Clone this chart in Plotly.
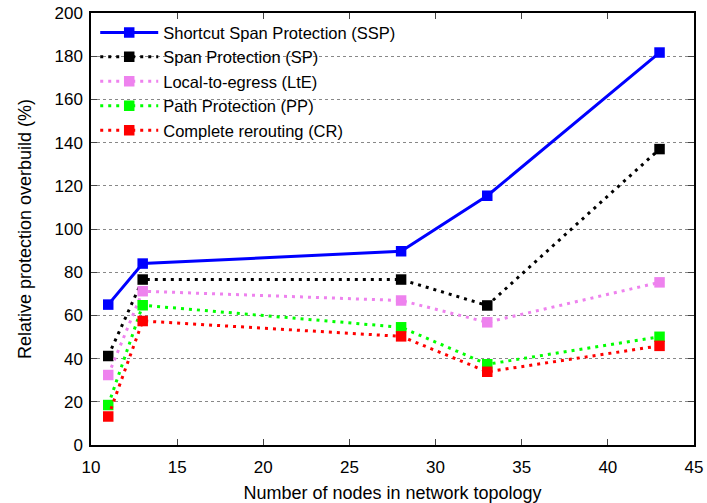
import plotly.graph_objects as go

nodes = [11, 13, 28, 33, 43]

series_names = [
    'Shortcut Span Protection (SSP)',
    'Span Protection (SP)',
    'Local-to-egress (LtE)',
    'Path Protection (PP)',
    'Complete rerouting (CR)',
]
ssp = [65, 84, 89.7, 115.4, 181.7]
sp = [41.2, 76.6, 76.6, 64.6, 137]
lte = [32.4, 71.2, 66.9, 56.8, 75.3]
pp = [18.5, 64.7, 54.5, 37.4, 50.1]
cr = [13.2, 57.4, 50.3, 33.9, 45.9]

y_ticks = list(range(0, 201, 20))
x_ticks = list(range(10, 46, 5))

colors = ['#0000ff', '#000000', '#ee82ee', '#00ff00', '#ff0000']
dashes = ['solid', '3px,5px', '3px,5px', '3px,5px', '3px,5px']

fig = go.Figure()
for name, vals, col, dash in zip(series_names, [ssp, sp, lte, pp, cr], colors, dashes):
    fig.add_trace(go.Scatter(
        x=nodes, y=vals, name=name,
        mode='lines+markers',
        line=dict(color=col, width=3, dash=dash),
        marker=dict(symbol='square', size=10.5, color=col),
    ))

tick_font = dict(family='Liberation Sans, Arial, sans-serif', size=17, color='black')
title_font = dict(family='Liberation Sans, Arial, sans-serif', size=18, color='black')

fig.update_layout(
    width=707, height=503,
    margin=dict(l=91, r=13, t=13, b=58),
    plot_bgcolor='white', paper_bgcolor='white',
    font=tick_font,
    showlegend=True,
    legend=dict(x=0.007, y=0.995, xanchor='left', yanchor='top',
                bgcolor='rgba(0,0,0,0)', font=dict(size=16.5),
                itemwidth=58, tracegroupgap=0),
    xaxis=dict(
        range=[10, 45], tickvals=x_ticks,
        ticks='inside', ticklen=6, mirror='allticks',
        showline=True, linecolor='black', linewidth=1.5,
        showgrid=False, zeroline=False, automargin=False,
        ticklabelstandoff=6, ticklabeloverflow='allow',
        title=dict(text='Number of nodes in network topology', standoff=14,
                   font=title_font),
        tickfont=tick_font,
    ),
    yaxis=dict(
        range=[0, 200], tickvals=y_ticks,
        ticks='inside', ticklen=6, mirror='allticks',
        showline=True, linecolor='black', linewidth=1.5,
        showgrid=True, gridcolor='#888888', griddash='dot', gridwidth=1,
        zeroline=False, automargin=False,
        ticklabelstandoff=3, ticklabeloverflow='allow',
        title=dict(text='Relative protection overbuild (%)', standoff=18,
                   font=title_font),
        tickfont=tick_font,
    ),
)

# drop the page's default body margin so the figure fills the window exactly
fig.write_html("out.html", config={'displayModeBar': False},
               post_script="document.body.style.margin='0';")
